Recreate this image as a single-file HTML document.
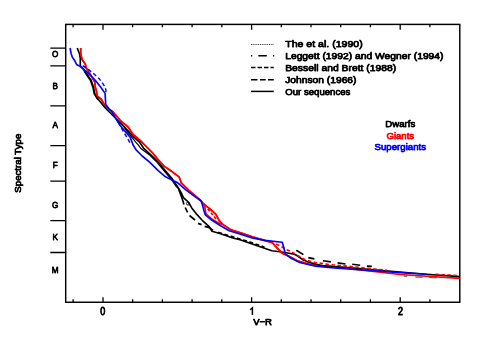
<!DOCTYPE html>
<html><head><meta charset="utf-8">
<style>
html,body{margin:0;padding:0;background:#fff;}
body{width:490px;height:343px;overflow:hidden;position:relative;font-family:"Liberation Sans",sans-serif;}
svg{position:absolute;left:0;top:0;will-change:transform;}
text{font-family:"Liberation Sans",sans-serif;font-weight:normal;font-size:9.5px;fill:#000;stroke:#000;stroke-width:0.75;stroke-linejoin:round;}
.k{stroke:#000;fill:none;}
.r{stroke:#f00;fill:none;}
.b{stroke:#00f;fill:none;}
.c{stroke-width:1.65;stroke-linejoin:round;}
</style></head><body>
<svg width="490" height="343" viewBox="0 0 490 343">
<!-- frame -->
<rect x="65.7" y="24.4" width="394.1" height="277.85" fill="none" stroke="#000" stroke-width="1.45"/>
<!-- x ticks bottom & top -->
<g stroke="#000" stroke-width="1.3" fill="none">
<path d="M73.1 302.25v-3.1M132.6 302.25v-3.1M162.4 302.25v-3.1M192.1 302.25v-3.1M221.8 302.25v-3.1M281.3 302.25v-3.1M311 302.25v-3.1M340.7 302.25v-3.1M370.4 302.25v-3.1M429.9 302.25v-3.1"/>
<path d="M103 302.25v-5M251.6 302.25v-5M400.2 302.25v-5"/>
<path d="M73.1 24.4v2.9M132.6 24.4v2.9M162.4 24.4v2.9M192.1 24.4v2.9M221.8 24.4v2.9M281.3 24.4v2.9M311 24.4v2.9M340.7 24.4v2.9M370.4 24.4v2.9M429.9 24.4v2.9"/>
<path d="M103 24.4v5.3M251.6 24.4v5.3M400.2 24.4v5.3"/>
</g>
<!-- y ticks -->
<path class="k" stroke-width="1.3" d="M50.3 48.2H65.5M50.3 65.9H65.5M50.3 105.9H65.5M50.3 145.6H65.5M50.3 181.2H65.5M50.3 220.6H65.5M50.3 252.5H65.5"/>
<!-- y labels -->
<g text-anchor="middle">
<text transform="translate(55.2 57.3) scale(0.86 1)">O</text>
<text transform="translate(55.2 88.5) scale(0.86 1)">B</text>
<text transform="translate(55.2 128.2) scale(0.86 1)">A</text>
<text transform="translate(55.2 167.8) scale(0.86 1)">F</text>
<text transform="translate(55.2 207.6) scale(0.86 1)">G</text>
<text transform="translate(55.2 239.6) scale(0.86 1)">K</text>
<text transform="translate(55.2 273.3) scale(0.86 1)">M</text>
<text transform="translate(102.8 315.3) scale(0.95 1.13)">0</text>

<text transform="translate(400.4 315.3) scale(0.95 1.13)">2</text>
<text x="262.6" y="325.1" textLength="18.8" lengthAdjust="spacingAndGlyphs">V−R</text>
<text transform="translate(21 163.2) rotate(-90)" textLength="59" lengthAdjust="spacingAndGlyphs">Spectral Type</text>
</g>
<path class="k" stroke-width="1.5" stroke-linejoin="miter" d="M250.2 309.8L252.4 307.9V315"/>
<!-- legend -->
<g class="k" stroke-width="1.5">
<path d="M251 44.5H274" stroke-dasharray="0.9 0.9" stroke="#222" stroke-width="1"/>
<path d="M251 55.7h1.2M258.3 55.7h8.5M273 55.7h1.2"/>
<path d="M251 67.6h4.5M257.5 67.6h4.5M264 67.6h4.5M270.5 67.6h3.2"/>
<path d="M251 79.8h6.5M260 79.8h5.7M268 79.8h5.8"/>
<path d="M251 91.4H273.8"/>
</g>
<g>
<text x="285.2" y="47.2" textLength="77.5" lengthAdjust="spacingAndGlyphs">The et al. (1990)</text>
<text x="285.2" y="58.9" textLength="158.3" lengthAdjust="spacingAndGlyphs">Leggett (1992) and Wegner (1994)</text>
<text x="285.2" y="71" textLength="111" lengthAdjust="spacingAndGlyphs">Bessell and Brett (1988)</text>
<text x="285.2" y="83.2" textLength="71.3" lengthAdjust="spacingAndGlyphs">Johnson (1966)</text>
<text x="285.2" y="95" textLength="65.2" lengthAdjust="spacingAndGlyphs">Our sequences</text>
</g>
<g text-anchor="middle">
<text x="400.3" y="126.9" textLength="29.9" lengthAdjust="spacingAndGlyphs">Dwarfs</text>
<text x="400.3" y="138.6" style="fill:#f00;stroke:#f00" textLength="27.5" lengthAdjust="spacingAndGlyphs">Giants</text>
<text x="400.3" y="150" style="fill:#00f;stroke:#00f" textLength="51.4" lengthAdjust="spacingAndGlyphs">Supergiants</text>
</g>
<!-- curves -->
<g class="c">
<path class="k" stroke-width="0.7" stroke="#444" d="M403.7 276.2L407.3 276.4M415.3 277.1L422.6 277.3M429.4 277.5L436.7 277.9"/>
<path class="r" d="M80.7 48L80.7 53.5L82.1 59.6L85.2 63.9L86.4 68.2L89.5 73L93.8 80.4L94.7 81.7L95.3 87.2L96.5 90.9L97.1 95.8L101.4 99.5L104.5 105L110.6 110.5L112.9 111.8L120.8 121L128.2 127.1L133 134.5L140.4 140.6L144.7 145L152 152.3L158.2 159.7L164.3 166.4L171.6 171.3L179 176.8L180.3 180L181.2 182.9L188.9 190.3L197.4 197.6L202.7 202.8L206.6 206.3L209.6 208.7L215.7 214.2L219.4 220.9L223 224.6L231.6 230.1L241.4 233.1L252.2 236.8L264.5 240.4L272.4 242.8L276.7 247.7L282.2 253.2L289 256.3L297.2 260.7L309.5 264.4L345 268.2L400 274.5L460 278.4"/>
<path class="k" d="M77.2 48L79.4 53.5L80.3 58.4L80.3 65.7L84.6 70.6L89.5 77.9L91 79.9L93.5 87.2L94.7 93.4L98.4 99.5L103.3 105.6L107.3 110L118.4 121L126.9 129.6L133 136.3L139.2 141.8L141.5 145L144 148.7L150.8 154.8L158.2 162.1L164.3 169.5L171.6 178L177.2 186.1L180.9 192.2L183.4 197.7L188.3 202L191.9 208.2L196.1 213.6L202.2 220.3L208.4 225.8L212 231.3L220.6 233.8L232.8 238L240 239.7L252.2 244L264.5 248.3L271.8 250.8L281.6 252L289 253.2L293.9 254.1L297.2 255.8L303.4 260.1L309.5 262.5L321.7 265.6L345 267.3L400 272L426.3 274.3L460 276.6"/>
<path class="k" stroke-width="1.2" d="M124.5 128.4L130.6 135.7L135.5 141.8L138.6 145.3L140.9 148.5L149.9 155.3L157.3 162.6L163.4 170L170.7 178.5L176.3 186.6L178.5 188.6"/>
<path class="k" d="M178.5 188.6L182.1 198.4L184 204.5M185.2 207.5L187.6 212.4M189.5 215.5L195 220M198 223.4L201.6 224.6M204.7 226.4L209.6 227.6L213 230.5"/>
<path class="k" stroke-width="1.2" d="M84 71.2L88.8 78.5L90.3 80.5L92.8 87.5L94 93.8L97.8 100"/>
<circle class="k" stroke-width="0.9" cx="188" cy="203.6" r="1.5"/>
<path class="k" stroke-dasharray="4 2.5" d="M218.2 232.4L232.8 236.8L252.2 242.8L264.5 247.2"/>
<path class="k" d="M296.3 250.2L303.4 254.6M308.3 257.6L314.4 258.9M322.9 260.7L330.9 261.9M337.6 262.9L345.5 264M352.2 264.3L360.2 265.2M366.9 266.1L371.8 266.4"/>
<path class="r" d="M80.7 48L80.7 53.5L82.1 59.6L85.2 63.9L86.4 68.2L89.5 73L93.8 80.4L94.7 81.7L95.3 87.2L96.5 90.9L97.1 95.8L101.4 99.5L104.5 105L110.6 110.5L112.9 111.8L120.8 121L128.2 127.1L133 134.5L140.4 140.6L144.7 145L152 152.3L158.2 159.7L164.3 166.4L171.6 171.3L179 176.8L180.3 180L181.2 182.9L188.9 190.3L197.4 197.6L202.7 202.8L206.6 206.3L209.6 208.7L215.7 214.2L219.4 220.9L223 224.6L231.6 230.1L241.4 233.1L252.2 236.8L264.5 240.4L272.4 242.8L276.7 247.7L282.2 253.2L289 256.3L297.2 260.7L309.5 264.4"/>
<path class="r" d="M203.5 204.5L204.7 206.2L205.9 213.6L207.2 214.9L212.5 219.5L219.4 223.4L223 224.5"/>
<path class="r" stroke-dasharray="3 2" d="M207.8 208.8L212.6 214.8L216.4 219.5"/>
<path class="r" stroke-dasharray="3.5 2.5" d="M276.1 244L280.4 245.9L285.9 249.5L291.1 251.5L297.2 255.2L305.8 260.1L315.6 262.5L327.8 264.4L341.3 265.6L387 270.3"/>
<path class="r" stroke-width="1" stroke-dasharray="3.5 2.5" d="M435.5 274L460 275.4"/>
<path class="b" d="M70.1 48L71.1 53.5L72.3 57.1L74.8 60.8L76.6 64.5L80.9 66.9L85.8 71.2L91.9 76.7L95.9 81.1L100.8 87.2L105.1 93.4L105.7 104.4L109.4 109.3L111 110.5L119.6 124.7L124.5 130.8L130 136.9L132.4 143L133.1 145L136.1 149.9L142.2 156L149.6 162.1L158.2 170.7L165.5 176.8L174.1 181.1L177.2 182.4L185.8 189.8L195.6 197.1L201.1 200.8L202.3 204.5L203.6 209.4L205.3 214.8L212 220.3L220.6 225.8L229.2 230.7L239 233.8L252.2 237.9L264.5 240.4L282.2 242.2L283.5 246.5L285.3 253.8L291.1 258.3L299.7 262.5L315.6 266.2L334 268L345 268.7L400 272.6L426.3 274.3"/>
<path class="b" stroke-width="1.4" stroke-dasharray="4 2.5" d="M82.7 65.7L88.3 69.4L94.4 74.3L99.2 78.7L102.8 83.6L105.2 87.2L106 90.3L105.5 93.5"/>
<path class="b" stroke-width="1.4" stroke-dasharray="4 2.5" d="M118.4 122.2L122.6 130.2L126.3 136.3L129.4 141.8L132 143.5"/>
</g>
</svg>
</body></html>
